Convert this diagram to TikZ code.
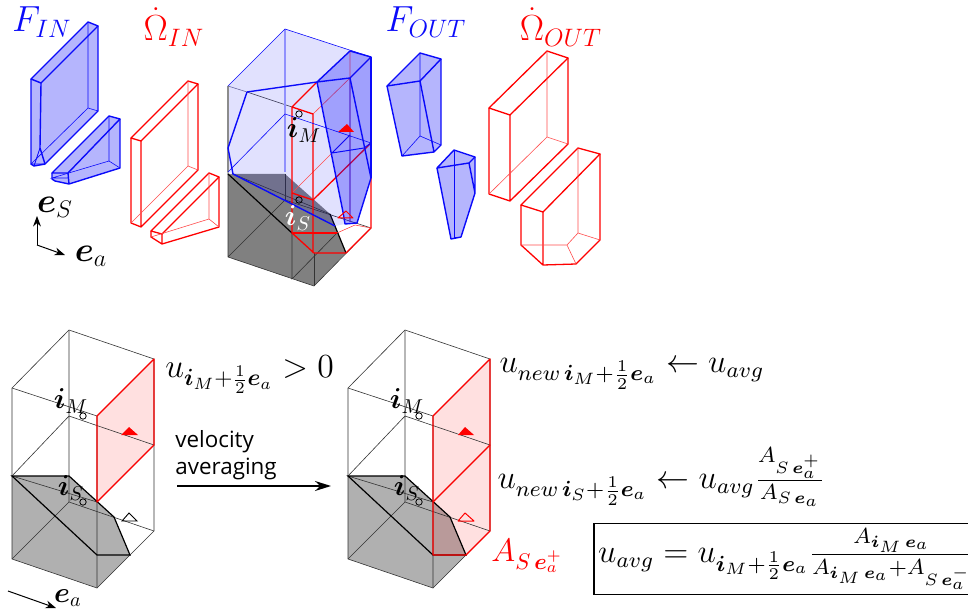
\documentclass[tikz,border=0pt]{standalone}
\usepackage{amsmath,amssymb,bm}
\usepackage{fontspec}
\usepackage{tikz}
\usetikzlibrary{arrows.meta,calc,positioning}
\newfontfamily\labelfont{Open Sans}
\definecolor{FluxBlue}{RGB}{10,10,250}
\definecolor{OmegaRed}{RGB}{255,0,0}
\tikzset{
  cellline/.style={black!80,line width=0.3pt},
  redthick/.style={OmegaRed,line width=0.65pt,line join=round},
  redthin/.style={OmegaRed!70,line width=0.3pt},
  bluethick/.style={FluxBlue,line width=0.7pt,line join=round},
  bluethin/.style={FluxBlue,line width=0.3pt},
  bluefill/.style={fill=FluxBlue,fill opacity=0.3,draw=none},
  lightfill/.style={fill=FluxBlue,fill opacity=0.12,draw=none},
  pinkfill/.style={fill=OmegaRed,fill opacity=0.12,draw=none},
  blacktri/.style={black,line width=0.45pt},
  dotmark/.style={circle,draw=black,line width=0.4pt,inner sep=0pt,minimum size=3.2pt},
  titletext/.style={scale=1.05,transform shape},
  eqntext/.style={anchor=west,inner sep=0pt,scale=#1,transform shape},
}
\begin{document}
\begin{tikzpicture}[x=0.5pt,y=-0.5pt,>=Stealth]
  \useasboundingbox (0,0) rectangle (968,609);
  \clip (0,0) rectangle (968,609);

  % incoming pieces
  \fill[bluefill] (31,79)--(88,22)--(98,26)--(98,111)--(45,165)--(34,166)--(31,164)--cycle;
  \draw[bluethick] (31,79)--(88,22)--(98,26)--(41,83)--cycle;
  \draw[bluethick] (31,79)--(31,164)--(34,166)--(45,164)--(98,111)--(98,26);
  \draw[bluethick] (41,83)--(40,148)--(45,164);
  \draw[bluethick,line width=0.45pt] (40,148)--(34,166);
  \draw[bluethin] (88,22)--(88,108)--(98,111) (88,108)--(31,164)--(45,164);
  \fill[bluefill] (52,173)--(109,116)--(120,119)--(120,168)--(69,184)--(55,181)--(52,179)--cycle;
  \draw[bluethick] (52,173)--(109,116)--(120,119)--(68,173)--cycle;
  \draw[bluethick] (52,173)--(52,179)--(55,181)--(69,184)--(120,168)--(120,119) (68,173)--(69,184);
  \draw[bluethin] (109,116)--(109,161)--(120,168) (109,161)--(52,178)--(68,178);

  \draw[redthick] (131,138)--(188,81)--(198,84)--(141,141)--cycle;
  \draw[redthick] (131,138)--(131,223)--(141,227)--(198,170)--(198,84) (141,141)--(141,227);
  \draw[redthin] (188,81)--(188,166)--(198,170) (188,166)--(131,223);
  \draw[redthick] (151,231)--(209,173)--(219,177)--(162,234)--cycle;
  \draw[redthick] (151,231)--(151,237)--(162,244)--(219,227)--(219,177) (162,234)--(162,244);
  \draw[redthin] (209,173)--(209,219)--(219,227) (209,219)--(151,237);

  \coordinate (axO) at (37,245);
  \coordinate (axS) at (37,216);
  \coordinate (axA) at (65,255);
  \draw[->,line width=0.5pt] (axO)--(axS);
  \draw[->,line width=0.5pt] (axO)--(axA);
  \node (labS) at (55,207) {\LARGE$\bm{e}_S$};
  \node (labA) at (91,256) {\LARGE$\bm{e}_a$};

  \node[FluxBlue,titletext] (titleFin) at (42,22) {\LARGE$F_{IN}$};
  \node[OmegaRed,titletext] (titleOin) at (174,27) {\LARGE$\dot\Omega_{IN}$};
  \node[FluxBlue,titletext] (titleFout) at (426,22) {\LARGE$F_{OUT}$};
  \node[OmegaRed,titletext] (titleOout) at (561,27) {\LARGE$\dot\Omega_{OUT}$};

  % central cell
  \fill[black!50] (228,174)--(285,174)--(330,214)--(346,253)--(314,286)--(228,257)--cycle;
  \draw[cellline] (228,86)--(228,257)--(314,286)--(371,228)--(285,200)--(228,257);
  \draw[cellline] (285,174)--(285,200) (314,253)--(314,286);
  \draw[cellline] (292,233)--(292,279)--(337,233);
  \draw[cellline] (247,92)--(292,107) (233,174)--(330,214);
  \draw[black,line width=0.6pt] (228,174)--(292,233);
  \draw[black,line width=0.6pt] (330,214)--(346,253);
  \fill[lightfill] (228,86)--(285,29)--(371,57)--(371,178)--(357,223)--(345,224)--(335,226)--(233,174)--(228,172)--cycle;
  \draw[redthin] (292,193)--(350,135) (350,51)--(350,222) (313,114)--(350,78)--(371,57);
  \draw[redthick] (317,82)--(292,107)--(313,114)--(313,253) (292,107)--(292,233)--(314,253)--(346,253);
  \draw[redthick] (292,193)--(313,200)--(371,143);
  \draw[redthick] (292,233)--(337,233);
  \draw[redthick] (346,253)--(371,228)--(371,143);
  \draw[redthin] (337,233)--(355,225)--(371,228);
  \fill[bluefill] (317,82)--(350,51)--(371,57)--(371,178)--(357,223)--(345,224)--cycle;
  \draw[FluxBlue!45,line width=0.6pt] (285,29)--(285,172);
  \draw[black!45,line width=0.6pt] (228,86)--(228,172);
  \draw[bluethin] (228,86)--(285,29)--(371,57) (228,172)--(285,114)--(371,143) (350,78)--(350,222);
  \draw[black!60!FluxBlue!60,line width=0.3pt] (228,86)--(247,92);
  \draw[bluethick] (247,92)--(317,82)--(350,78)--(371,57)--(350,51)--(317,82);
  \draw[bluethick] (247,92)--(228,148)--(233,174)--(335,226);
  \draw[bluethick] (317,82)--(343,212)--(345,224)--(357,223)--(371,178)--(350,78);
  \draw[bluethick] (371,57)--(371,178);
  \draw[bluethick,line width=0.5pt] (332,153)--(364,148)--(371,143) (332,153)--(350,135);
  \draw[redthick,line width=0.5pt] (338,218)--(346,211)--(353,218)--cycle;
  \fill[OmegaRed] (338,132)--(347,124)--(354,132)--cycle;
  \node[dotmark] (dotMtop) at (299,114) {};
  \node[dotmark] (dotStop) at (299,200) {};
  \node (labMtop) at (304,130) {\Large$\bm{i}_M$};
  \node[white] (labStop) at (298,218) {\Large$\bm{i}_S$};

  % outgoing pieces
  \fill[bluefill] (387,86)--(420,53)--(441,59)--(441,145)--(434,152)--(402,156)--cycle;
  \draw[bluethick] (387,86)--(420,53)--(441,59)--(420,81)--cycle;
  \draw[bluethick] (387,86)--(402,156)--(434,152)--(441,145)--(441,59) (420,81)--(434,152);
  \draw[bluethin] (420,53)--(420,136)--(441,145) (420,136)--(402,156);
  \fill[bluefill] (437,168)--(454,150)--(475,157)--(475,193)--(461,237)--(451,239)--cycle;
  \draw[bluethick] (437,168)--(454,150)--(475,157)--(469,163)--cycle;
  \draw[bluethick] (475,157)--(475,193)--(461,237)--(451,239)--(437,168) (469,163)--(475,193);
  \draw[bluethin] (454,150)--(454,237)--(461,237);

  \draw[redthick] (489,108)--(547,51)--(568,58)--(510,115)--cycle;
  \draw[redthick] (489,108)--(489,194)--(510,201)--(568,144)--(568,58) (510,115)--(510,201);
  \draw[redthin] (547,51)--(547,137)--(568,144) (547,137)--(489,194);
  \draw[redthick] (521,205)--(578,148)--(600,154)--(543,212)--cycle;
  \draw[redthick] (521,205)--(521,245)--(543,265)--(576,264)--(600,240)--(600,154) (543,212)--(543,265);
  \draw[redthin] (578,148)--(578,233)--(600,240) (578,233)--(567,245)--(576,264) (521,245)--(567,245);

  % lower cells
  \foreach \pnl in {0,336}{
    \begin{scope}[shift={(\pnl,0)}]
      \fill[black!31] (12,476)--(69,476)--(114,517)--(130,555)--(97,588)--(12,559)--cycle;
    \end{scope}
  }
  \fill[pinkfill] (97,416)--(154,359)--(154,445)--(97,502)--cycle;
  \fill[pinkfill] (433,416)--(490,359)--(490,531)--(466,555)--(433,555)--cycle;
  \foreach \pnl in {0,336}{
    \begin{scope}[shift={(\pnl,0)}]
      \draw[cellline] (12,388)--(69,330)--(154,359)--(154,531)--(97,588)--(12,559)--cycle;
      \draw[cellline] (12,388)--(97,416)--(154,359) (97,416)--(97,588);
      \draw[cellline] (69,330)--(69,502) (12,476)--(69,416)--(154,445)--(97,502)--(12,476);
      \draw[cellline] (12,559)--(69,502)--(154,531);
      \draw[black,line width=0.6pt] (12,476)--(69,476)--(114,517)--(130,555)--(97,555)--cycle;
      \node[dotmark] (dotM\pnl) at (83,416) {};
      \node[dotmark] (dotS\pnl) at (83,502) {};
      \node (labM\pnl) at (71,401) {\Large$\bm{i}_M$};
      \node (labS\pnl) at (71,488) {\Large$\bm{i}_S$};
    \end{scope}
  }
  \draw[redthick] (97,416)--(154,359)--(154,445)--(97,502)--cycle;
  \fill[OmegaRed] (121,435)--(129,427)--(138,435)--cycle;
  \draw[blacktri] (122,521)--(129,513)--(137,521)--cycle;
  \draw[redthick] (433,555)--(433,416)--(490,359)--(490,531)--(466,555)--cycle;
  \draw[redthick] (433,502)--(490,445);
  \fill[OmegaRed] (458,435)--(465,427)--(474,435)--cycle;
  \draw[redthick,line width=0.5pt] (458,521)--(465,513)--(474,521)--cycle;

  \coordinate (eaS) at (8,591);
  \coordinate (eaE) at (56,608);
  \draw[->,line width=0.5pt] (eaS)--(eaE);
  \node (labEa) at (68,598) {\Large$\bm{e}_a$};

  \node[eqntext=1.17] (uIn) at (165,375) {\Large$u_{\bm{i}_M+\frac{1}{2}\bm{e}_a}>0$};
  \node[align=left,inner sep=0pt,anchor=west,font=\labelfont\fontsize{11.2}{13.6}\selectfont] (velText) at (175,455) {velocity\\averaging};
  \coordinate (avS) at (177,486);
  \coordinate (avE) at (331,486);
  \draw[-{Stealth[length=8pt,width=5pt]},line width=0.8pt] (avS)--(avE);

  \node[eqntext=1.37] (uNewM) at (499,374) {\large$u_{new\,\bm{i}_M+\frac{1}{2}\bm{e}_a}\leftarrow u_{avg}$};
  \node[eqntext=1.37] (uNewS) at (497,477) {\large$u_{new\,\bm{i}_S+\frac{1}{2}\bm{e}_a}\leftarrow u_{avg}\frac{A_{S\,\bm{e}_a^+}}{A_{S\,\bm{e}_a}}$};
  \node[OmegaRed,eqntext=1.13] (labAplus) at (491,556) {\Large$A_{S\,\bm{e}_a^+}$};
  \node[draw=black,line width=0.8pt,eqntext=1.37,inner sep=1.5pt,minimum height=26pt] (eqBox) at (593,559)
    {\large$u_{avg}=u_{\bm{i}_M+\frac{1}{2}\bm{e}_a}\frac{A_{\bm{i}_M\,\bm{e}_a}}{A_{\bm{i}_M\,\bm{e}_a}+A_{S\,\bm{e}_a^-}}$};
\end{tikzpicture}
\end{document}
